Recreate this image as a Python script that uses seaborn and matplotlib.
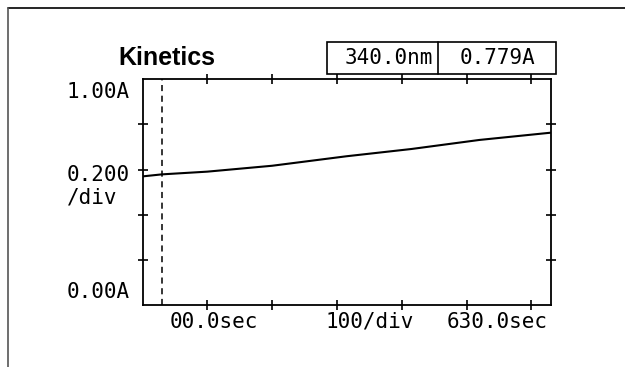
import matplotlib
matplotlib.use("Agg")
import matplotlib.pyplot as plt
from matplotlib.lines import Line2D
from matplotlib.patches import Rectangle
import seaborn as sns
import pandas as pd

# absorbance trace
time_sec = [0, 30, 100, 200, 315, 415, 520, 630]
absorb = [0.570, 0.579, 0.591, 0.617, 0.659, 0.691, 0.731, 0.763]
x_ticks = [100, 200, 300, 400, 500, 600]
y_ticks = [0.2, 0.4, 0.6, 0.8]
cursor_sec = 30
wavelength = "340.0nm"
reading = "0.779A"

df = pd.DataFrame({"t": time_sec, "A": absorb})

sns.set_style("white")
plt.rcParams["text.color"] = "black"
mono = ["DejaVu Sans Mono"]

fig = plt.figure(figsize=(6.25, 3.67), dpi=100)
ax = fig.add_axes([0.228, 0.1676, 0.6532, 0.6171])

sns.lineplot(data=df, x="t", y="A", ax=ax, color="black", lw=1.5)
ax.axvline(cursor_sec, color="black", ls=(0, (4, 3)), lw=1.1)

ax.set_xlim(0, 630)
ax.set_ylim(0, 1)
ax.set_xticks(x_ticks)
ax.set_yticks(y_ticks)
ax.tick_params(axis="both", direction="inout", length=7, width=1.2, color="black",
               top=True, bottom=True, left=True, right=True,
               labelbottom=False, labelleft=False)
for s in ax.spines.values():
    s.set_visible(True)
    s.set_color("black")
    s.set_linewidth(1.3)
ax.set_xlabel("")
ax.set_ylabel("")

# screen frame (top and left edges)
fig.add_artist(Line2D([8 / 625, 1], [1 - 8 / 367, 1 - 8 / 367], transform=fig.transFigure,
                      color="black", lw=1.2))
fig.add_artist(Line2D([8 / 625, 8 / 625], [0, 1 - 8 / 367], transform=fig.transFigure,
                      color="#555555", lw=1.2))

fig.text(0.267, 0.823, "Kinetics", family="Liberation Sans", weight="bold",
         fontsize=18, ha="center", va="baseline", color="black")

# axis scale labels
fig.text(0.107, 0.748, "1.00A", family=mono, fontsize=15, ha="left", va="center")
fig.text(0.107, 0.523, "0.200", family=mono, fontsize=15, ha="left", va="center")
fig.text(0.107, 0.462, "/div", family=mono, fontsize=15, ha="left", va="center")
fig.text(0.107, 0.203, "0.00A", family=mono, fontsize=15, ha="left", va="center")
fig.text(0.272, 0.123, "00.0sec", family=mono, fontsize=15, ha="left", va="center")
fig.text(0.520, 0.123, "100/div", family=mono, fontsize=15, ha="left", va="center")
fig.text(0.877, 0.123, "630.0sec", family=mono, fontsize=15, ha="right", va="center")

# readout box
fig.add_artist(Rectangle((0.523, 0.798), 0.366, 0.087, transform=fig.transFigure,
                         fill=False, ec="black", lw=1.2))
fig.add_artist(Line2D([0.701, 0.701], [0.798, 0.885], transform=fig.transFigure,
                      color="black", lw=1.2))
fig.text(0.693, 0.842, wavelength, family=mono, fontsize=15, ha="right", va="center")
fig.text(0.736, 0.842, reading, family=mono, fontsize=15, ha="left", va="center")

fig.savefig("out.png", dpi=100)
